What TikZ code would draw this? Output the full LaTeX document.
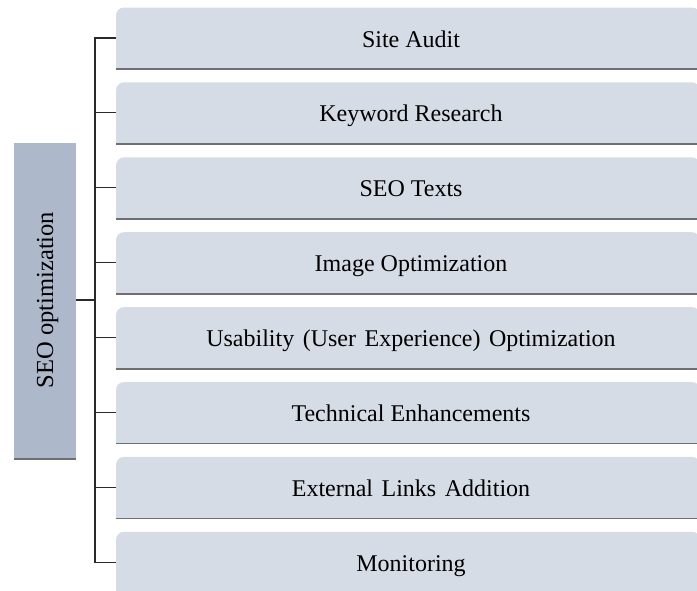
\documentclass[tikz,border=0pt]{standalone}
\usepackage{fontspec}
\setmainfont{Liberation Serif}
\definecolor{boxfill}{HTML}{D5DCE6}
\definecolor{rootfill}{HTML}{ADB8CA}
\definecolor{shadowline}{HTML}{6F6F6F}
\definecolor{conn}{HTML}{2A2A2A}
\newcommand{\wsp}{\hspace{8.5pt}}
\begin{document}
\begin{tikzpicture}[x=1pt,y=-1pt,
  itembox/.style={fill=boxfill, draw=none},
  itemtext/.style={font=\fontsize{24}{28}\selectfont, anchor=base, inner sep=0pt},
  bottomline/.style={draw=shadowline, line width=1.8pt},
  connline/.style={draw=conn, line width=1.1pt}]
\useasboundingbox (0,0) rectangle (697,590);
% root box
\fill[rootfill] (14,143) rectangle (76,459);
\draw[bottomline] (14,459) -- (76,459);
\node[rotate=90, itemtext, font=\fontsize{24.5}{28}\selectfont] (root) at (53,300) {SEO optimization};
\coordinate (rootR) at (76,300);
\coordinate (bus) at (95,300);
% item boxes
\foreach \i/\t in {1/{Site Audit},2/{Keyword Research},3/{SEO Texts},4/{Image Optimization},5/{Usability\wsp(User\wsp Experience)\wsp Optimization},6/{Technical Enhancements},7/{External\wsp Links\wsp Addition},8/{Monitoring}}{
  \pgfmathsetmacro{\top}{7.5+(\i-1)*74.9}
  \pgfmathsetmacro{\bot}{\top+61.5}
  \pgfmathsetmacro{\mid}{\top+30.5}
  \fill[itembox, rounded corners=8pt] (116,\bot) -- (116,\top) -- (700,\top) -- (700,\bot) -- cycle;
  \fill[boxfill] (116,\bot-10) rectangle (700,\bot);
  \draw[bottomline] (116,\bot) -- (697,\bot);
  \node[itemtext] (t\i) at (411,\mid+9) {\t};
  \coordinate (L\i) at (116,\mid);
  \coordinate (B\i) at (95,\mid);
}
\draw[connline] (rootR) -- (bus);
\draw[connline] (L1) -- (B1) -- (B8) -- (L8);
\foreach \i in {2,...,7}{\draw[connline] (B\i) -- (L\i);}
\end{tikzpicture}
\end{document}
